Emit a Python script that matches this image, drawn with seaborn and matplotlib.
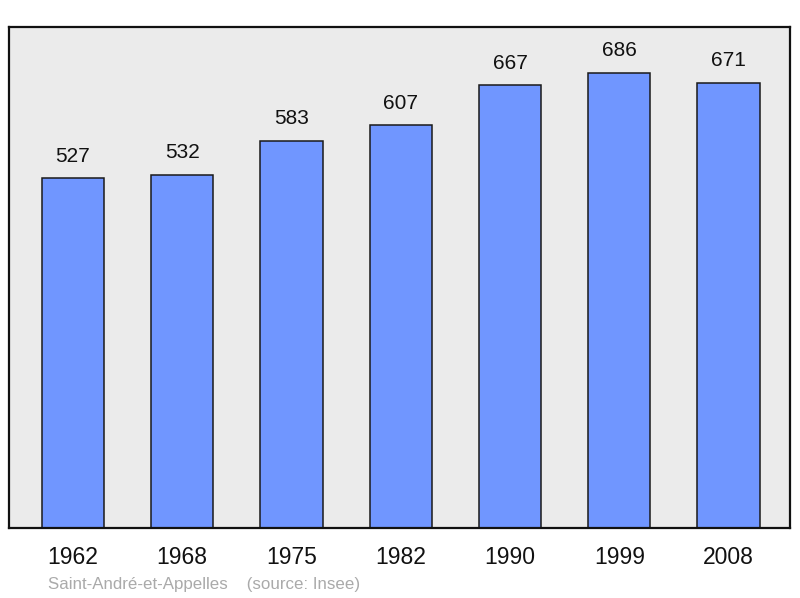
import matplotlib
matplotlib.use("Agg")
import matplotlib.pyplot as plt
import seaborn as sns
import pandas as pd

years = ["1962", "1968", "1975", "1982", "1990", "1999", "2008"]
population = [527, 532, 583, 607, 667, 686, 671]
source_label = "Saint-André-et-Appelles    (source: Insee)"

sns.set_style("white")
plt.rcParams['font.family'] = ['Liberation Sans', 'DejaVu Sans']

df = pd.DataFrame({"year": years, "pop": population})

fig = plt.figure(figsize=(8, 5.98), dpi=100)
ax = fig.add_axes([0.01125, 0.117, 0.976, 0.838])
ax.set_facecolor("#ebebeb")

sns.barplot(data=df, x="year", y="pop", color="#7096ff", saturation=1,
            width=0.57, edgecolor="#1a1a1a", linewidth=1.1, ax=ax)

for i, v in enumerate(population):
    ax.text(i, v + 19, str(v), ha="center", va="bottom", fontsize=15, color="#111111")

ax.set_xlim(-0.585, 6.56)
ax.set_ylim(0, 755)
ax.set_yticks([])
ax.set_xlabel("")
ax.set_ylabel("")
ax.tick_params(axis="x", length=0, labelsize=16.5, pad=13, colors="#111111")
for s in ax.spines.values():
    s.set_visible(True)
    s.set_linewidth(1.6)
    s.set_color("#111111")

fig.text(48/800, 1 - 584/598, source_label, fontsize=12.2, color="#aaaaaa",
         ha="left", va="center")

fig.savefig("out.png", dpi=100)
